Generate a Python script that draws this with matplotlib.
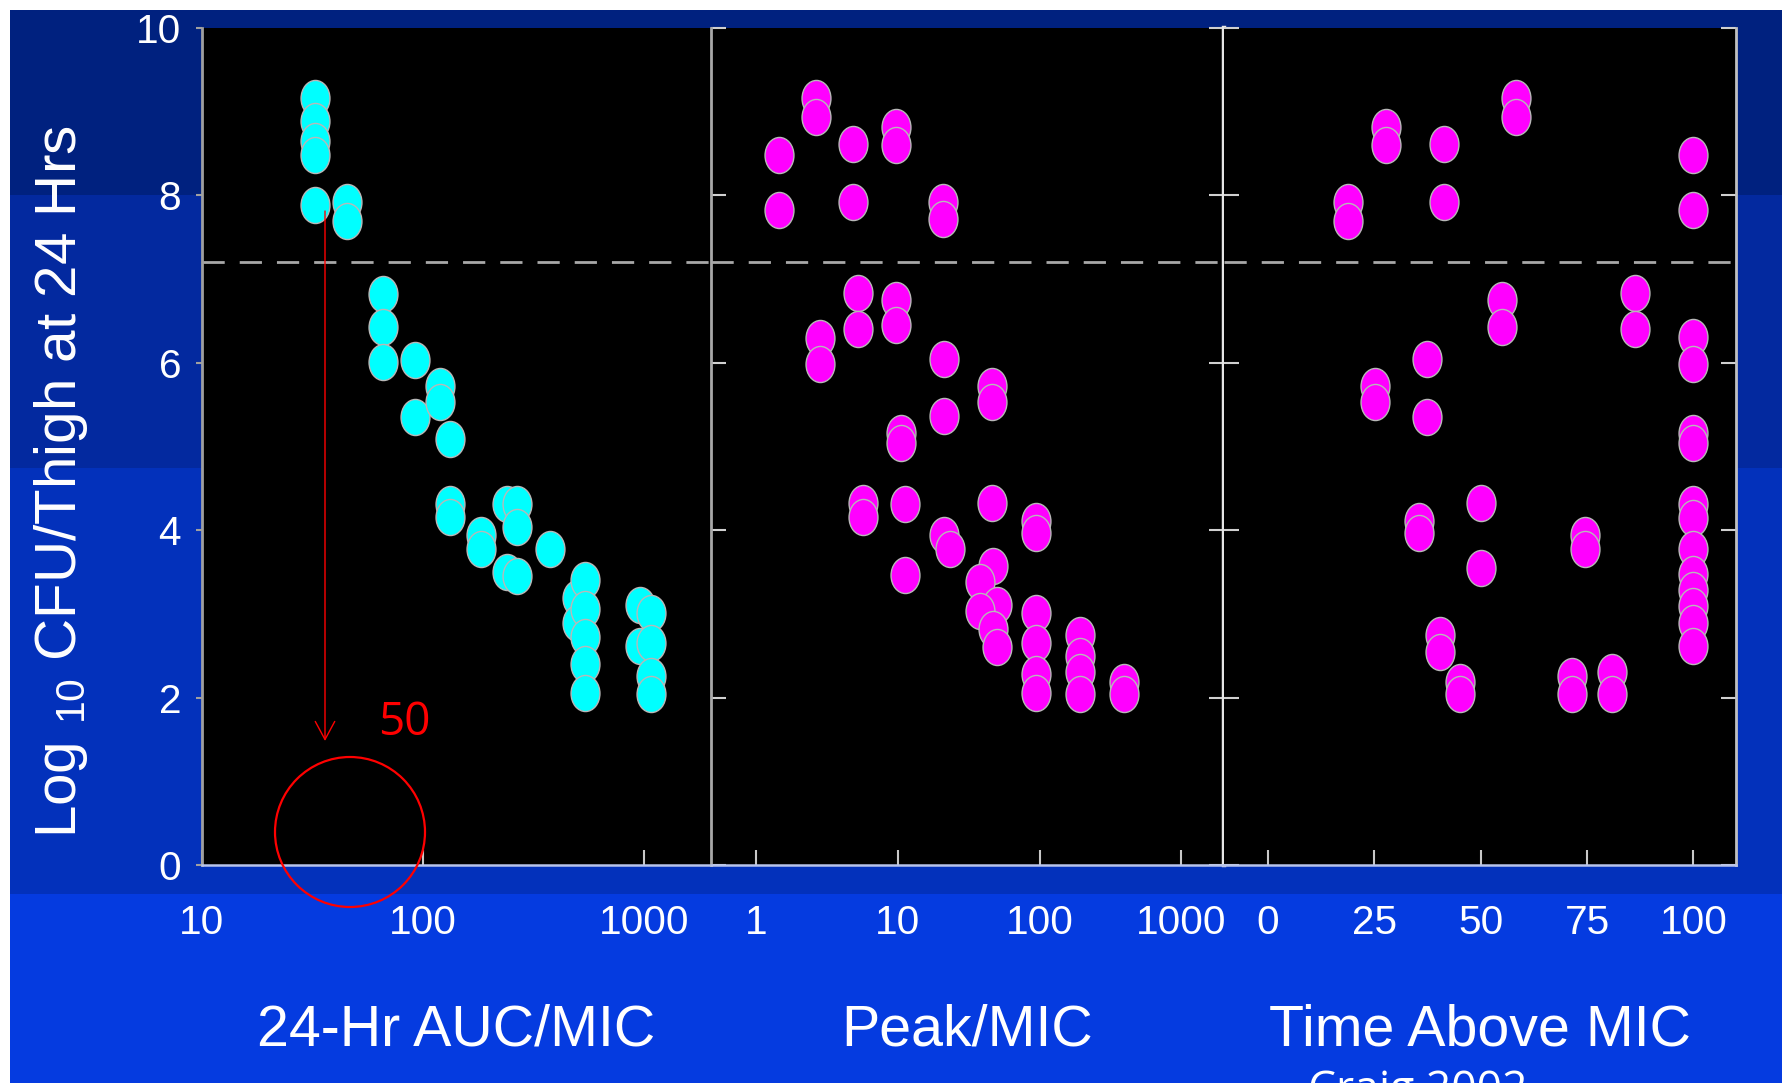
import numpy as np
import matplotlib
matplotlib.use('Agg')
import matplotlib.pyplot as plt
from matplotlib.patches import Rectangle, Ellipse, FancyArrowPatch
from matplotlib.path import Path
from matplotlib.transforms import Affine2D, blended_transform_factory
from matplotlib.ticker import FixedLocator, FixedFormatter, NullLocator
from matplotlib import font_manager as fm

# ---------------- data ----------------
auc_x = [32.5, 32.5, 32.5, 32.5, 32.5, 45.4, 45.4, 65.8, 65.8, 65.8, 92, 92,
         119.5, 119.5, 132.5, 132.5, 132.5, 183, 183, 239, 239, 265.5, 265.5, 265.5,
         376, 496, 496, 536, 536, 536, 536, 536, 960, 960, 1072, 1072, 1072, 1072]
auc_y = [9.16, 8.89, 8.65, 8.48, 7.89, 7.92, 7.70, 6.82, 6.43, 6.01, 6.03, 5.35,
         5.72, 5.53, 5.09, 4.31, 4.16, 3.94, 3.77, 4.31, 3.50, 4.31, 4.04, 3.45,
         3.77, 3.19, 2.89, 3.40, 3.06, 2.72, 2.40, 2.06, 3.11, 2.62, 3.01, 2.65, 2.26, 2.04]

peak_x = [1.44, 1.44, 2.63, 2.63, 4.84, 4.84, 9.68, 9.68, 20.8, 20.8,
          2.82, 2.82, 5.25, 5.25, 9.68, 9.68, 21.2, 46.1, 46.1, 21.2, 10.5, 10.5,
          5.7, 5.7, 11.3, 46.1, 94.8, 94.8, 21.2, 23.2, 11.3,
          46.9, 37.8, 50, 37.8, 46.9, 50,
          94.8, 94.8, 94.8, 94.8, 193, 193, 193, 193, 391, 391]
peak_y = [8.48, 7.83, 9.16, 8.94, 8.61, 7.92, 8.82, 8.60, 7.92, 7.72,
          6.30, 5.99, 6.83, 6.40, 6.75, 6.45, 6.04, 5.72, 5.53, 5.36, 5.16, 5.04,
          4.33, 4.16, 4.31, 4.32, 4.11, 3.97, 3.94, 3.77, 3.47,
          3.57, 3.38, 3.11, 3.04, 2.82, 2.61,
          3.01, 2.65, 2.28, 2.06, 2.75, 2.50, 2.31, 2.04, 2.19, 2.04]

tam_x = [18.9, 18.9, 27.7, 27.7, 41.4, 41.4, 58.4, 58.4, 100, 100,
         55.1, 55.1, 86.2, 86.2, 100, 100, 37.5, 37.5, 25.1, 25.1, 100, 100,
         50.2, 50.2, 35.5, 35.5, 74.6, 74.6,
         100, 100, 100, 100, 100, 100, 100, 100,
         40.4, 40.4, 45.1, 45.1, 71.4, 71.4, 80.9, 80.9]
tam_y = [7.92, 7.70, 8.82, 8.60, 8.61, 7.92, 9.16, 8.94, 8.48, 7.83,
         6.75, 6.43, 6.83, 6.40, 6.31, 5.99, 6.04, 5.35, 5.72, 5.53, 5.16, 5.04,
         4.32, 3.55, 4.11, 3.97, 3.94, 3.77,
         4.31, 4.14, 3.77, 3.48, 3.28, 3.09, 2.89, 2.62,
         2.75, 2.55, 2.19, 2.04, 2.26, 2.04, 2.31, 2.04]

stasis_level = 7.2

xlabels = ['24-Hr AUC/MIC', 'Peak/MIC', 'Time Above MIC']
y_ticks = [0, 2, 4, 6, 8, 10]
y_ticklabels = ['0', '2', '4', '6', '8', '10']
auc_ticks = [10, 100, 1000]
auc_ticklabels = ['10', '100', '1000']
peak_ticks = [1, 10, 100, 1000]
peak_ticklabels = ['1', '10', '100', '1000']
tam_ticks = [0, 25, 50, 75, 100]
tam_ticklabels = ['0', '25', '50', '75', '100']
ylabel = r'Log $_{\mathregular{10}}$ CFU/Thigh at 24 Hrs'

# ---------------- fonts ----------------
names = {f.name for f in fm.fontManager.ttflist}
if 'Liberation Sans Narrow' in names:
    NARROW, nscale = 'Liberation Sans Narrow', 1.0
else:
    NARROW, nscale = 'Liberation Sans', 0.86
REG = 'Liberation Sans'
CAL = 'Open Sans'

# ---------------- figure ----------------
W, H = 1782, 1083
fig = plt.figure(figsize=(W / 100, H / 100), dpi=100, facecolor='white')


def fx(px):
    return px / W


def fy(py):
    return 1 - py / H


bands = [(10, 195, '#00217f'), (195, 468, '#03299f'),
         (468, 894, '#0331bb'), (894, 1083, '#053be0')]
for top, bot, c in bands:
    fig.add_artist(Rectangle((fx(10), fy(bot)), 1 - fx(10), fy(top) - fy(bot),
                             transform=fig.transFigure, facecolor=c,
                             edgecolor='none', zorder=-10))

edges = [202, 711, 1224, 1736]
top_px, bot_px = 28, 865
axes = []
for i in range(3):
    ax = fig.add_axes([fx(edges[i]), fy(bot_px), fx(edges[i + 1]) - fx(edges[i]),
                       fy(top_px) - fy(bot_px)])
    ax.set_facecolor('black')
    ax.set_ylim(0, 10)
    axes.append(ax)

ax1, ax2, ax3 = axes
ax1.set_xscale('log')
ax2.set_xscale('log')
ax1.set_xlim(10, 2000)
ax2.set_xlim(0.48, 2000)
ax3.set_xlim(-10.3, 110)

ell = Path.unit_circle().transformed(Affine2D().scale(0.8, 1.0))
mk = dict(linestyle='none', marker=ell, ms=26, mec='#b8b8b8', mew=1.0, zorder=3)
ax1.plot(auc_x, auc_y, mfc='#00ffff', **mk)
ax2.plot(peak_x, peak_y, mfc='#ff00ff', **mk)
ax3.plot(tam_x, tam_y, mfc='#ff00ff', **mk)

for ax in axes:
    ax.axhline(stasis_level, color='#a8a8a8', lw=2.0, dashes=(8, 5.4), zorder=2)
    ax.yaxis.set_major_locator(FixedLocator(y_ticks))
    ax.yaxis.set_major_formatter(FixedFormatter(y_ticklabels))
    ax.yaxis.set_minor_locator(NullLocator())
    ax.xaxis.set_minor_locator(NullLocator())
    ax.spines['top'].set_visible(False)
    ax.spines['bottom'].set_color('#b8c4ec')
    ax.spines['bottom'].set_linewidth(1.8)
    ax.tick_params(axis='x', which='major', direction='in', length=10.8, width=1.5,
                   color='#c8c8c8', labelcolor='white', labelsize=34 * nscale, pad=28,
                   top=False)

for ax, ticks, labs in [(ax1, auc_ticks, auc_ticklabels),
                        (ax2, peak_ticks, peak_ticklabels),
                        (ax3, tam_ticks, tam_ticklabels)]:
    ax.xaxis.set_major_locator(FixedLocator(ticks))
    ax.xaxis.set_major_formatter(FixedFormatter(labs))
    ax.xaxis.set_minor_locator(NullLocator())
    for lab in ax.get_xticklabels():
        lab.set_family(NARROW)

# panel 1 spines / ticks
ax1.spines['left'].set_color('#a0a0a0')
ax1.spines['left'].set_linewidth(2.0)
ax1.spines['right'].set_visible(False)
ax1.tick_params(axis='y', direction='out', length=4, width=1.5, color='#a0a0a0',
                labelcolor='white', labelsize=34 * nscale, pad=11, left=True,
                right=False, labelleft=True)
for lab in ax1.get_yticklabels():
    lab.set_family(NARROW)

# panel 2
ax2.spines['left'].set_color('#a8a8a8')
ax2.spines['left'].set_linewidth(2.0)
ax2.spines['right'].set_color('#e6e6e6')
ax2.spines['right'].set_linewidth(3.2)
ax2.tick_params(axis='y', direction='in', length=10.8, width=1.5, color='#d0d0d0',
                left=True, right=True, labelleft=False, labelright=False)

# panel 3
ax3.spines['left'].set_visible(False)
ax3.spines['right'].set_color('#c0c0c0')
ax3.spines['right'].set_linewidth(2.0)
ax3.tick_params(axis='y', direction='in', length=10.8, width=1.5, color='#d0d0d0',
                left=True, right=True, labelleft=False, labelright=False)

# x axis titles
for ax, lab in zip(axes, xlabels):
    tr = blended_transform_factory(ax.transAxes, fig.transFigure)
    ax.text(0.5, fy(1046), lab, transform=tr, ha='center', va='baseline',
            fontsize=48 * nscale, family=NARROW, color='white')

# y axis title
fig.text(fx(76), fy(482), ylabel, rotation=90, rotation_mode='anchor',
         ha='center', va='baseline', fontsize=42, family=REG, color='white')

# red annotation
fig.add_artist(FancyArrowPatch((fx(325), fy(211)), (fx(325), fy(741)),
                               transform=fig.transFigure,
                               arrowstyle='->,head_length=1.3,head_width=0.7',
                               mutation_scale=10, color='red', lw=1.0,
                               shrinkA=0, shrinkB=0, zorder=15))
fig.add_artist(Ellipse((fx(350), fy(832)), width=150 / W, height=150 / H,
                       transform=fig.transFigure, fill=False, edgecolor='red',
                       lw=1.6, zorder=15))
fig.text(fx(404), fy(735), '50', ha='center', va='baseline', fontsize=33,
         family=CAL, color='red', zorder=15)

# source text (partly cut off, as in the original)
fig.text(fx(1308), fy(1102), 'Craig 2002', ha='left', va='baseline', fontsize=32,
         family=CAL, color='white', zorder=15)

# white margins
fig.add_artist(Rectangle((0, fy(10)), 1, 1 - fy(10), transform=fig.transFigure,
                         facecolor='white', edgecolor='none', zorder=20))
fig.add_artist(Rectangle((0, 0), fx(10), 1, transform=fig.transFigure,
                         facecolor='white', edgecolor='none', zorder=20))

fig.savefig('out.png', dpi=100, facecolor='white')
